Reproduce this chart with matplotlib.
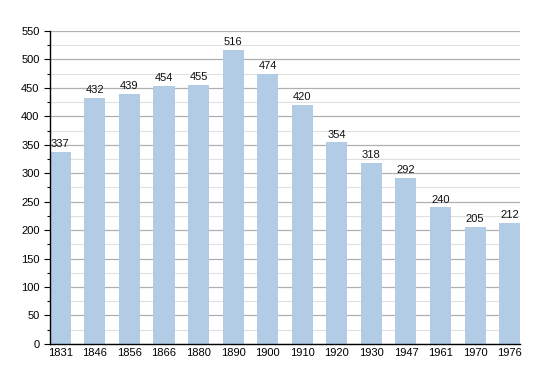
import matplotlib
matplotlib.use("Agg")
import matplotlib.pyplot as plt
from matplotlib.ticker import MultipleLocator

plt.rcParams["font.family"] = ["Liberation Sans", "DejaVu Sans"]

years = ["1831", "1846", "1856", "1866", "1880", "1890", "1900",
         "1910", "1920", "1930", "1947", "1961", "1970", "1976"]
population = [337, 432, 439, 454, 455, 516, 474, 420, 354, 318, 292, 240, 205, 212]

fig = plt.figure(figsize=(5.5, 3.73), dpi=100)
ax = fig.add_axes([0.0909, 0.078, 0.8545, 0.839])

x = list(range(len(years)))
ax.bar(x, population, width=0.61, color="#b3cce6", zorder=2)
for xi, v in zip(x, population):
    ax.text(xi, v + 5, str(v), ha="center", va="bottom", fontsize=8, color="#111111")

ax.set_xlim(-0.3, len(years) - 0.7)
ax.set_ylim(0, 550)
ax.yaxis.set_major_locator(MultipleLocator(50))
ax.yaxis.set_minor_locator(MultipleLocator(25))
ax.grid(axis="y", which="major", color="#b0b0b0", linewidth=0.9, zorder=0)
ax.grid(axis="y", which="minor", color="#e0e0e0", linewidth=0.8, zorder=0)
ax.set_xticks(x)
ax.set_xticklabels(years)
ax.tick_params(axis="x", length=0, labelsize=8, pad=3)
ax.tick_params(axis="y", which="major", length=4, labelsize=8, width=0.8)
ax.tick_params(axis="y", which="minor", length=2, width=0.8)
for s in ["top", "right"]:
    ax.spines[s].set_visible(False)
ax.spines["left"].set_linewidth(1.0)
ax.spines["bottom"].set_linewidth(1.0)

fig.savefig("out.png", dpi=100)
